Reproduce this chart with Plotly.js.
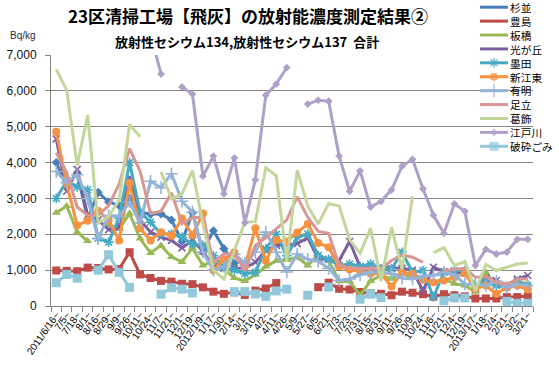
<!DOCTYPE html>
<html><head><meta charset="utf-8">
<script src="https://cdn.plot.ly/plotly-3.0.1.min.js"></script>
<style>html,body{margin:0;padding:0;background:#fff;} #chart{width:559px;height:368px;}</style>
</head><body><div id="chart"></div>
<script>
const categories = ["2011/6/16~","7/5~","7/18~","8/1~","8/16~","8/29~","9/9~","9/26~","10/11~","10/24~","11/7~","11/21~","12/1~","12/19~","2012/1/9~","1/17~","1/30~","2/14~","3/1~","3/10~","4/2~","4/11~","4/26~","5/9~","5/27~","6/5~","6/21~","7/3~","7/23~","7/31~","8/15~","8/31~","9/11~","9/26~","10/9~","10/24~","11/6~","11/21~","12/4~","12/19~","2013/1/7~","1/18~","2/4~","2/21~","3/2~","3/21~"];

const suginami = [4000,3350,3700,2420,3170,2900,2800,3000,2620,2560,2570,2400,1800,2600,1500,2100,1600,1200,null,null,null,null,null,null,null,null,null,null,null,null,null,null,null,null,null,null,null,null,null,null,null,null,null,null,null,null];
const toshima = [990,980,970,1070,1060,1020,1030,1500,880,780,700,680,620,610,520,400,340,380,310,430,490,640,null,null,null,525,650,480,460,390,350,340,300,400,370,330,260,330,300,270,210,210,210,250,250,270];
const itabashi = [2600,2790,2060,1810,null,2250,2150,2580,1880,1480,1690,1365,1230,1620,1130,1250,1040,780,700,870,1100,1260,1280,1360,1130,1430,1260,690,690,300,700,850,760,900,800,700,660,760,620,570,400,940,570,520,660,620];
const hikarigaoka = [4660,3200,3810,2530,2400,2130,2200,3580,2400,2060,1920,1830,1620,1830,1530,1085,1050,1050,1060,1220,1550,1690,1700,1740,1900,1320,1300,1270,1800,1090,1100,1080,1050,1050,1000,420,1080,960,940,920,480,780,710,570,750,850];
const sumida = [3000,3500,3320,3240,1890,1780,2450,4000,2620,2340,2010,2010,1920,1730,1690,1400,1080,1000,900,940,1600,2000,1400,1920,2010,1410,1300,1130,1170,1100,1170,1040,1040,1500,940,990,250,940,990,990,570,690,570,520,690,570];
const shinkoto = [4860,3400,2250,2380,2650,2400,1830,3430,2170,1830,2060,1960,2440,1980,2580,1000,1300,1490,1100,2170,1260,1840,1800,2050,2290,1760,1640,1100,1020,970,900,900,545,930,900,730,660,710,800,910,480,570,340,520,570,460];
const ariake = [3750,3440,3660,3000,1880,2520,2500,2900,2320,3480,3300,3690,2920,2620,1500,1000,1100,1450,1200,1500,2060,1500,950,1450,1300,1250,1050,710,755,870,940,940,900,775,755,830,850,940,870,615,600,570,690,520,615,570];
const adachi = [4280,3720,2760,2530,2530,2800,3400,4390,3760,2580,2640,3160,2300,2460,2480,1220,1450,1450,990,1690,1900,2150,2400,3040,2480,2080,2030,1130,1060,1050,1060,1050,1270,1430,1360,1220,null,990,1030,1050,800,820,660,600,755,755];
const katsushika = [6600,6020,3920,5320,2310,2500,2950,5060,4720,null,3740,2990,3130,3780,2300,990,755,1550,2340,2350,3860,3630,1230,3790,2790,2290,2855,2790,1850,1470,2170,700,2200,1025,3070,null,1480,1630,1130,1240,420,1160,990,1080,1170,1200];
const edogawa = [9740,9000,10500,9500,10800,9600,9100,9800,8500,7600,6470,null,6110,5910,3620,4180,3130,4130,2320,3520,5880,6190,6650,null,5630,5740,5710,4180,3200,3770,2760,2920,3240,3900,4090,3270,2530,2030,2850,2640,1130,1580,1450,1500,1860,1860];
const crushed = [650,880,775,null,1000,1430,940,520,null,null,330,510,470,363,null,null,null,400,400,336,270,420,470,null,300,null,530,null,null,190,330,230,null,null,null,null,null,145,225,225,null,null,null,130,75,75];

const seriesNames = ["杉並","豊島","板橋","光が丘","墨田","新江東","有明","足立","葛飾","江戸川","破砕ごみ"];
const seriesValues = [suginami,toshima,itabashi,hikarigaoka,sumida,shinkoto,ariake,adachi,katsushika,edogawa,crushed];
const seriesColors = ["#4A7EBB","#BE4B48","#98B954","#7D60A0","#46AAC5","#F69240","#95B3D7","#D99694","#C3D69B","#AFA0C8","#92C8DA"];
const seriesSymbols = ["diamond","square","triangle-up","x-thin","asterisk-open","circle","cross-thin-open",null,null,"diamond","square"];
const seriesSizes = [7,8,8,7,8,8,9,0,0,6,9];

const isThin = s => !!s && (s.indexOf('thin')>=0 || s.indexOf('open')>=0);
const idx = categories.map((c,i)=>i);
const traces = [];
seriesValues.forEach((vals,k)=>{
  const sym = seriesSymbols[k];
  const tr = {
    type:'scatter', mode: sym ? 'lines+markers' : 'lines',
    x: idx, y: vals, name: seriesNames[k], connectgaps:false, showlegend:false, hoverinfo:'skip',
    line:{color:seriesColors[k], width:3}
  };
  if (sym) tr.marker = {symbol:sym, size:seriesSizes[k], color:seriesColors[k], line:{color:seriesColors[k], width: isThin(sym)?1.6:0}};
  traces.push(tr);
});
// dummy trace for the label axis
traces.push({type:'scatter', mode:'markers', x:[0], y:[null], xaxis:'x3', yaxis:'y', showlegend:false, hoverinfo:'skip'});

// manual legend
const L = 51, R = 533, T = 55, B = 306;
const legFont = 10.7, legStep = legFont*1.3, legTop = 7.2;
const legY = seriesNames.map((n,i)=>legTop + legStep*i);
const legMarkIdx = seriesNames.map((n,i)=>i).filter(i=>seriesSymbols[i]);
traces.push({
  type:'scatter', mode:'markers', xaxis:'x2', yaxis:'y2', cliponaxis:false, showlegend:false, hoverinfo:'skip',
  x: legMarkIdx.map(()=>494), y: legMarkIdx.map(i=>legY[i]),
  marker:{symbol: legMarkIdx.map(i=>seriesSymbols[i]), size: legMarkIdx.map(i=>seriesSizes[i]),
    color: legMarkIdx.map(i=>seriesColors[i]),
    line:{color: legMarkIdx.map(i=>seriesColors[i]), width: legMarkIdx.map(i=>isThin(seriesSymbols[i])?1.6:0)}}
});
const px2x = p => (p-L)/(R-L);
const px2y = p => (B-p)/(B-T);
const shapes = seriesNames.map((n,i)=>({type:'line', xref:'paper', yref:'paper', x0:px2x(480), x1:px2x(508), y0:px2y(legY[i]), y1:px2y(legY[i]), line:{color:seriesColors[i], width:3}}));
const legMid = (legY[0] + legY[legY.length-1]) / 2;
const annotations = [{xref:'paper', yref:'paper', x:px2x(509), y:px2y(legMid), xanchor:'left', yanchor:'middle', align:'left', borderpad:0,
  text: seriesNames.join('<br>'), showarrow:false, font:{family:'Noto Sans CJK JP', size:legFont, color:'#000'}}];
annotations.push({xref:'paper', yref:'paper', x:px2x(247), y:px2y(41), xanchor:'center', yanchor:'middle', showarrow:false,
  text:'<b>放射性セシウム134,放射性セシウム137  合計</b>', font:{family:'Noto Sans CJK JP', size:13, color:'#000'}});
annotations.push({xref:'paper', yref:'paper', x:px2x(23), y:px2y(35), xanchor:'center', yanchor:'middle', showarrow:false,
  text:'Bq/kg', font:{family:'Liberation Sans', size:10, color:'#1F2A44'}});

const bounds = [];
for (let i=0;i<=categories.length;i++) bounds.push(i-0.5);

const layout = {
  width:559, height:368, autosize:false,
  margin:{l:L, r:559-R, t:T, b:368-B, pad:0},
  paper_bgcolor:'#fff', plot_bgcolor:'#fff',
  title:{text:'<b>23区清掃工場【飛灰】の放射能濃度測定結果②</b>', xref:'container', yref:'container', x:248/559, xanchor:'center', y:1-17/368, yanchor:'middle',
    font:{family:'Noto Sans CJK JP', size:17, color:'#000'}},
  xaxis:{range:[-0.5, categories.length-0.5], tickmode:'array', tickvals:bounds, ticktext:bounds.map(()=>''), ticks:'outside', ticklen:5, tickcolor:'#868686',
    showline:true, linecolor:'#868686', linewidth:1, showgrid:false, zeroline:false},
  xaxis3:{overlaying:'x', anchor:'y', side:'bottom', range:[-0.5, categories.length-0.5], tickmode:'array', tickvals:idx, ticktext:categories, tickangle:-55,
    ticks:'', showline:false, showgrid:false, zeroline:false, tickfont:{family:'Liberation Sans', size:10, color:'#000'}},
  xaxis2:{overlaying:'x', anchor:'y2', range:[L,R], visible:false},
  yaxis2:{overlaying:'y', anchor:'x2', range:[B,T], visible:false},
  yaxis:{range:[0,7000], tickmode:'array', tickvals:[0,1000,2000,3000,4000,5000,6000,7000], tickformat:',d', showgrid:true, gridcolor:'#868686', gridwidth:1,
    ticks:'outside', ticklen:5, tickcolor:'#868686', showline:true, linecolor:'#868686', zeroline:false, ticklabelstandoff:6,
    tickfont:{family:'Liberation Sans', size:12, color:'#111'}},
  shapes: shapes, annotations: annotations, showlegend:false
};
Plotly.newPlot('chart', traces, layout, {staticPlot:true, displayModeBar:false});
</script></body></html>
